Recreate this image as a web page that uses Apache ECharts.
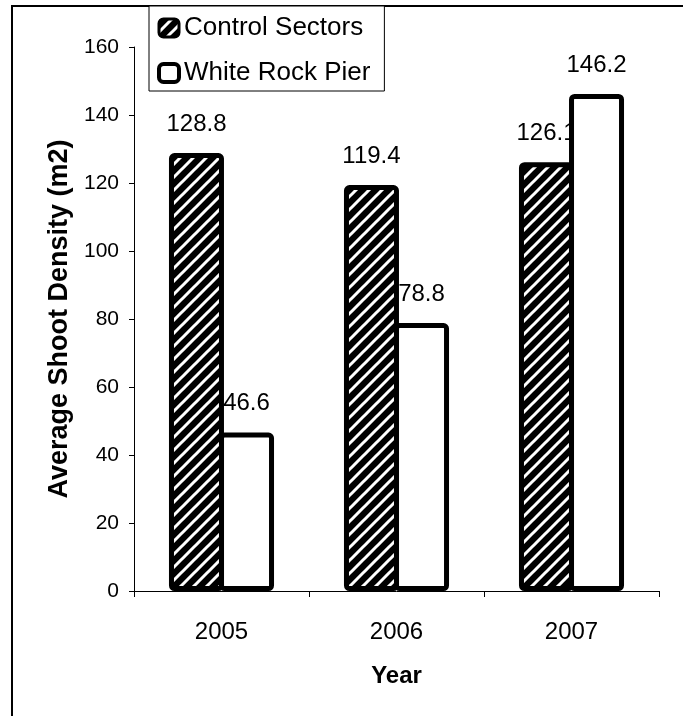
<!DOCTYPE html>
<html>
<head>
<meta charset="utf-8">
<script src="https://cdn.jsdelivr.net/npm/echarts@6/dist/echarts.min.js"></script>
<style>
html,body{margin:0;padding:0;background:#fff;}
#chart{width:683px;height:716px;}
</style>
</head>
<body>
<div id="chart"></div>
<script>
const categories = ['2005', '2006', '2007'];
const controlSectors = [128.8, 119.4, 126.1];
const whiteRockPier = [46.6, 78.8, 146.2];
const seriesNames = ['Control Sectors', 'White Rock Pier'];
const yTicks = { min: 0, max: 160, interval: 20 };

function hatch() {
  const s = 13;
  const c = document.createElement('canvas');
  c.width = s; c.height = s;
  const g = c.getContext('2d');
  g.fillStyle = '#000';
  g.fillRect(0, 0, s, s);
  g.strokeStyle = '#fff';
  g.lineWidth = 3;
  g.beginPath();
  g.moveTo(-s, 2 * s); g.lineTo(2 * s, -s);
  g.moveTo(-2 * s, 2 * s); g.lineTo(s, -s);
  g.moveTo(0, 2 * s); g.lineTo(3 * s, -s);
  g.stroke();
  return c;
}
const hatchPattern = { image: hatch(), repeat: 'repeat' };

const font = 'Liberation Sans, Arial, sans-serif';
const chart = echarts.init(document.getElementById('chart'));
chart.setOption({
  backgroundColor: '#fff',
  animation: false,
  textStyle: { fontFamily: font, color: '#000' },
  graphic: [{
    type: 'rect', z: 0, silent: true,
    shape: { x: 12, y: 6, width: 720, height: 760 },
    style: { fill: 'none', stroke: '#000', lineWidth: 2 }
  }],
  grid: { left: 134, top: 47, right: 24, bottom: 125 },
  legend: {
    orient: 'vertical', left: 149, top: 6, align: 'left',
    backgroundColor: '#fff', borderColor: '#000', borderWidth: 1,
    padding: [9, 14, 5, 8], itemGap: 19, itemWidth: 20, itemHeight: 18, itemTextGap: 5,
    textStyle: { fontSize: 26, color: '#000', fontFamily: font },
    data: [
      { name: seriesNames[0], icon: 'roundRect', itemStyle: { color: hatchPattern, borderColor: '#000', borderWidth: 3 } },
      { name: seriesNames[1], icon: 'roundRect', itemStyle: { color: '#fff', borderColor: '#000', borderWidth: 4 } }
    ]
  },
  xAxis: {
    type: 'category', data: categories,
    name: 'Year', nameLocation: 'middle', nameGap: 73,
    nameTextStyle: { fontSize: 24, fontWeight: 'bold', color: '#000', fontFamily: font },
    axisLine: { lineStyle: { color: '#000', width: 1 } },
    axisTick: { show: true, length: 6, alignWithLabel: false, lineStyle: { color: '#000' } },
    axisLabel: { fontSize: 24, color: '#000', margin: 29, fontFamily: font }
  },
  yAxis: {
    type: 'value', min: yTicks.min, max: yTicks.max, interval: yTicks.interval,
    name: 'Average Shoot Density (m2)', nameLocation: 'middle', nameGap: 56,
    nameTextStyle: { fontSize: 27, fontWeight: 'bold', color: '#000', fontFamily: font },
    axisLine: { show: true, lineStyle: { color: '#000', width: 1 } },
    axisTick: { show: true, length: 5, lineStyle: { color: '#000' } },
    splitLine: { show: false },
    axisLabel: { fontSize: 21, color: '#000', margin: 15, fontFamily: font }
  },
  series: [
    {
      name: seriesNames[0], type: 'bar', data: controlSectors, z: 2,
      barWidth: 55, barGap: '-9%',
      itemStyle: { color: hatchPattern, borderColor: '#000', borderWidth: 5, borderRadius: 3 },
      label: { show: true, position: 'top', distance: 17, fontSize: 24, color: '#000', fontFamily: font }
    },
    {
      name: seriesNames[1], type: 'bar', data: whiteRockPier, z: 3,
      barWidth: 55, barGap: '-9%',
      itemStyle: { color: '#fff', borderColor: '#000', borderWidth: 5, borderRadius: 3 },
      label: { show: true, position: 'top', distance: 17, fontSize: 24, color: '#000', fontFamily: font }
    }
  ]
});
</script>
</body>
</html>
